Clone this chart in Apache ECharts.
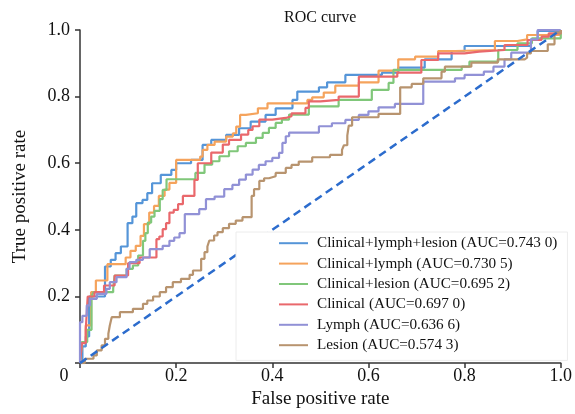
<!DOCTYPE html>
<html>
<head>
<meta charset="utf-8">
<script src="https://cdn.jsdelivr.net/npm/echarts@6/dist/echarts.min.js"></script>
<style>html,body{margin:0;padding:0;background:#fff;}#chart{width:575px;height:414px;}</style>
</head>
<body>
<div id="chart"></div>
<script>
const seriesNames = [
  'Clinical+lymph+lesion (AUC=0.743 0)',
  'Clinical+lymph (AUC=0.730 5)',
  'Clinical+lesion (AUC=0.695 2)',
  'Clinical (AUC=0.697 0)',
  'Lymph (AUC=0.636 6)',
  'Lesion (AUC=0.574 3)'
];
const xTicks = [0, 0.2, 0.4, 0.6, 0.8, 1.0];
const yTicks = [0, 0.2, 0.4, 0.6, 0.8, 1.0];

// [false positive rate, true positive rate] staircase points
const rocClinLymphLesion = [[0,0],[0.005,0.05],[0.012,0.08],[0.019,0.2],[0.052,0.29],[0.064,0.31],[0.074,0.33],[0.085,0.35],[0.099,0.42],[0.109,0.44],[0.117,0.48],[0.13,0.49],[0.14,0.51],[0.15,0.54],[0.168,0.565],[0.19,0.58],[0.2,0.6],[0.231,0.61],[0.255,0.655],[0.273,0.67],[0.304,0.685],[0.331,0.705],[0.355,0.725],[0.386,0.745],[0.407,0.765],[0.442,0.79],[0.452,0.815],[0.497,0.828],[0.514,0.843],[0.552,0.865],[0.628,0.872],[0.662,0.887],[0.717,0.912],[0.773,0.937],[0.8,0.952],[0.938,0.972],[0.952,0.997],[1,1]];
const rocClinLymph = [[0,0],[0.004,0.063],[0.012,0.113],[0.023,0.213],[0.033,0.248],[0.057,0.297],[0.095,0.317],[0.105,0.337],[0.116,0.352],[0.126,0.382],[0.133,0.417],[0.144,0.452],[0.154,0.472],[0.164,0.502],[0.176,0.521],[0.186,0.541],[0.2,0.61],[0.25,0.62],[0.255,0.64],[0.265,0.655],[0.28,0.665],[0.304,0.68],[0.318,0.69],[0.325,0.71],[0.333,0.745],[0.345,0.75],[0.37,0.765],[0.39,0.78],[0.473,0.79],[0.483,0.798],[0.507,0.812],[0.531,0.833],[0.58,0.843],[0.621,0.878],[0.662,0.912],[0.697,0.92],[0.745,0.937],[0.78,0.94],[0.863,0.967],[0.91,0.972],[0.93,0.985],[1,1]];
const rocClinLesion = [[0,0],[0.004,0.063],[0.015,0.1],[0.024,0.2],[0.028,0.213],[0.069,0.223],[0.072,0.263],[0.097,0.283],[0.11,0.293],[0.121,0.323],[0.131,0.367],[0.136,0.39],[0.141,0.422],[0.148,0.44],[0.155,0.457],[0.166,0.492],[0.172,0.52],[0.18,0.552],[0.24,0.571],[0.259,0.596],[0.275,0.606],[0.29,0.621],[0.31,0.636],[0.328,0.651],[0.345,0.661],[0.366,0.676],[0.38,0.691],[0.393,0.706],[0.407,0.721],[0.42,0.731],[0.435,0.746],[0.476,0.771],[0.538,0.79],[0.607,0.82],[0.642,0.841],[0.652,0.88],[0.794,0.89],[0.81,0.905],[0.87,0.94],[0.91,0.96],[0.94,0.975],[1,1]];
const rocClinical = [[0,0],[0.004,0.06],[0.012,0.1],[0.016,0.2],[0.03,0.213],[0.05,0.233],[0.072,0.263],[0.1,0.3],[0.124,0.317],[0.159,0.372],[0.165,0.38],[0.172,0.402],[0.179,0.42],[0.186,0.452],[0.195,0.46],[0.204,0.477],[0.214,0.502],[0.238,0.55],[0.245,0.6],[0.273,0.632],[0.297,0.656],[0.31,0.67],[0.335,0.686],[0.35,0.7],[0.359,0.711],[0.373,0.731],[0.4,0.736],[0.428,0.741],[0.44,0.75],[0.469,0.766],[0.476,0.786],[0.5,0.79],[0.538,0.8],[0.58,0.86],[0.66,0.872],[0.71,0.91],[0.745,0.93],[0.8,0.935],[0.83,0.94],[0.883,0.955],[0.931,0.97],[0.96,0.98],[0.975,0.99],[1,1]];
const rocLymph = [[0,0],[0,0.123],[0.005,0.142],[0.014,0.173],[0.021,0.193],[0.035,0.208],[0.055,0.223],[0.062,0.243],[0.076,0.258],[0.097,0.283],[0.103,0.303],[0.117,0.31],[0.131,0.317],[0.145,0.342],[0.172,0.352],[0.186,0.367],[0.196,0.377],[0.207,0.39],[0.218,0.447],[0.248,0.462],[0.262,0.492],[0.28,0.5],[0.3,0.522],[0.317,0.535],[0.331,0.551],[0.345,0.566],[0.359,0.581],[0.372,0.595],[0.386,0.606],[0.4,0.616],[0.414,0.631],[0.421,0.661],[0.428,0.681],[0.435,0.692],[0.497,0.711],[0.524,0.72],[0.552,0.73],[0.58,0.745],[0.6,0.756],[0.621,0.768],[0.655,0.778],[0.714,0.845],[0.78,0.855],[0.8,0.865],[0.84,0.875],[0.86,0.89],[0.883,0.912],[0.897,0.932],[0.938,0.972],[0.952,1.0],[1,1]];
const rocLesion = [[0,0],[0.01,0.013],[0.028,0.023],[0.035,0.038],[0.045,0.053],[0.052,0.073],[0.059,0.088],[0.062,0.113],[0.066,0.138],[0.083,0.153],[0.11,0.163],[0.131,0.178],[0.14,0.188],[0.152,0.2],[0.166,0.213],[0.179,0.228],[0.193,0.243],[0.21,0.253],[0.228,0.265],[0.235,0.278],[0.252,0.313],[0.259,0.333],[0.265,0.35],[0.269,0.368],[0.279,0.383],[0.286,0.393],[0.297,0.405],[0.31,0.418],[0.324,0.428],[0.338,0.438],[0.357,0.502],[0.362,0.522],[0.373,0.547],[0.383,0.555],[0.393,0.561],[0.407,0.571],[0.428,0.586],[0.44,0.595],[0.455,0.605],[0.483,0.618],[0.52,0.625],[0.545,0.64],[0.549,0.654],[0.556,0.683],[0.559,0.713],[0.566,0.738],[0.621,0.748],[0.666,0.828],[0.69,0.838],[0.714,0.855],[0.752,0.875],[0.759,0.89],[0.814,0.902],[0.869,0.912],[0.925,0.917],[0.93,0.93],[0.938,0.937],[0.973,0.957],[0.987,0.992],[1,1]];
const chanceLine = [[0,0],[1,1]];

const curves = [rocClinLymphLesion, rocClinLymph, rocClinLesion, rocClinical, rocLymph, rocLesion];
const colors = ['#5595d8', '#f5a35c', '#80c77a', '#e9686c', '#9191d6', '#b8946f'];
const FONT = "'Liberation Serif', 'Times New Roman', serif";

const chart = echarts.init(document.getElementById('chart'), null, {renderer: 'canvas'});
const series = curves.map((d, i) => ({
  name: seriesNames[i],
  type: 'line',
  step: 'end',
  data: d,
  symbol: 'none',
  lineStyle: {color: colors[i], width: 2.2},
  itemStyle: {color: colors[i]},
  z: 2 + i
}));
series.push({
  name: 'chance',
  type: 'line',
  data: chanceLine,
  symbol: 'none',
  lineStyle: {color: '#2c6ccd', width: 2.5, type: [8, 5]},
  z: 10
});

chart.setOption({
  animation: false,
  backgroundColor: '#fff',
  title: {
    text: 'ROC curve',
    left: 279,
    top: 5,
    textStyle: {fontFamily: FONT, fontSize: 16, fontWeight: 'normal', color: '#111'}
  },
  legend: {
    data: seriesNames,
    orient: 'vertical',
    left: 236,
    top: 232,
    padding: [1, 10, 5, 43],
    icon: 'rect',
    itemWidth: 29,
    itemHeight: 2,
    itemGap: 0,
    backgroundColor: '#fff',
    borderColor: '#ececec',
    borderWidth: 1,
    z: 20,
    textStyle: {fontFamily: FONT, fontSize: 15.2, color: '#111', lineHeight: 20.4, padding: [0, 0, 0, 4]}
  },
  grid: {left: 80, right: 12, top: 30, bottom: 50},
  xAxis: {
    type: 'value', min: 0, max: 1, interval: 0.2,
    name: 'False positive rate', nameLocation: 'middle', nameGap: 23,
    nameTextStyle: {fontFamily: FONT, fontSize: 19, color: '#111'},
    axisLine: {lineStyle: {color: '#333', width: 1.5}},
    axisTick: {show: true, inside: false, length: 5, lineStyle: {color: '#333', width: 1.5}},
    splitLine: {show: false},
    axisLabel: {
      margin: 4, fontFamily: FONT, fontSize: 18, color: '#111',
      customValues: xTicks,
      formatter: v => v === 0 ? '{z|0}' : v.toFixed(1),
      rich: {z: {fontFamily: FONT, fontSize: 18, color: '#111', padding: [0, 32, 0, 0]}}
    }
  },
  yAxis: {
    type: 'value', min: 0, max: 1, interval: 0.2,
    name: 'True positive rate', nameLocation: 'middle', nameGap: 50, nameRotate: 90,
    nameTextStyle: {fontFamily: FONT, fontSize: 19, color: '#111'},
    axisLine: {show: true, lineStyle: {color: '#333', width: 1.5}},
    axisTick: {show: true, inside: false, length: 5, lineStyle: {color: '#333', width: 1.5}},
    splitLine: {show: false},
    axisLabel: {
      margin: 10, fontFamily: FONT, fontSize: 18, color: '#111',
      customValues: yTicks,
      formatter: v => v === 0 ? '' : v.toFixed(1)
    }
  },
  series: series
});
</script>
</body>
</html>
